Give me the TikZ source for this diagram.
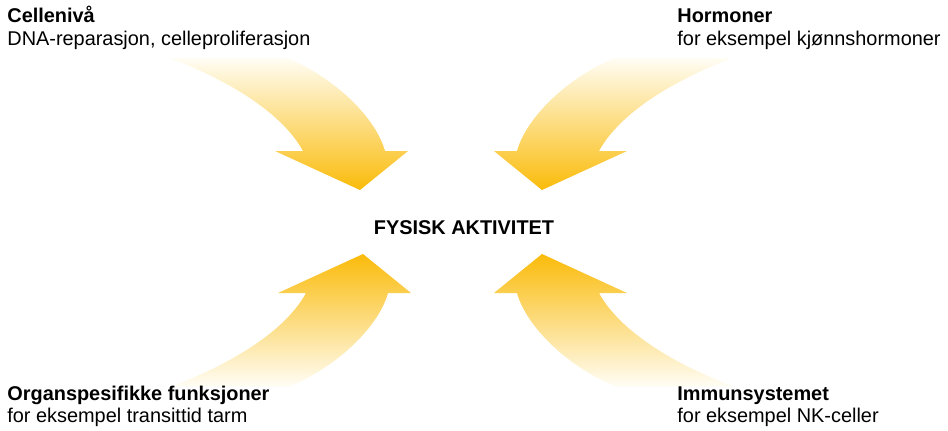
\documentclass[tikz,border=0pt]{standalone}
\usepackage{fontspec}
\setmainfont{Liberation Sans}
\definecolor{arrowtip}{RGB}{250,187,10}
\definecolor{arrowtail}{RGB}{255,253,244}
\newcommand{\curvedarrowpath}{%
  (-281,-164) -- (-164,-164)
  .. controls (-121,-147) and (-76,-107) .. (-66,-71)
  -- (-43,-71) -- (-91,-32) -- (-176,-71) -- (-148,-71)
  .. controls (-166,-104) and (-211,-137) .. (-281,-164) -- cycle}
\tikzset{
  lbltitle/.style={inner sep=0pt, anchor=base west, font=\fontsize{9.95}{12}\selectfont\bfseries},
  lblsub/.style={inner sep=0pt, anchor=base west, font=\fontsize{9.95}{12}\selectfont},
  downarrow/.style={top color=arrowtail, bottom color=arrowtip, draw=none},
  uparrow/.style={top color=arrowtip, bottom color=arrowtail, draw=none}
}
\begin{document}
\begin{tikzpicture}[x=0.5pt,y=-0.5pt]
\useasboundingbox[fill=white] (0,0) rectangle (948,430);
% arrows
\begin{scope}[shift={(451,222)}]
  \shade[downarrow] \curvedarrowpath;
\end{scope}
\begin{scope}[shift={(451,222)}, xscale=-1]
  \shade[downarrow] \curvedarrowpath;
\end{scope}
\begin{scope}[shift={(454,222)}, yscale=-1]
  \shade[uparrow] \curvedarrowpath;
\end{scope}
\begin{scope}[shift={(451,222)}, xscale=-1, yscale=-1]
  \shade[uparrow] \curvedarrowpath;
\end{scope}
% center text
\node[lbltitle, anchor=base] (center) at (464,234) {FYSISK AKTIVITET};
% labels
\node[lbltitle] (tlT) at (7,22.7) {Cellenivå};
\node[lblsub] (tlS) at (7,45.3) {DNA-reparasjon, celleproliferasjon};
\node[lbltitle] (trT) at (677,22.7) {Hormoner};
\node[lblsub] (trS) at (677,45.3) {for eksempel kjønnshormoner};
\node[lbltitle] (blT) at (7,400) {Organspesifikke funksjoner};
\node[lblsub] (blS) at (7,422.7) {for eksempel transittid tarm};
\node[lbltitle] (brT) at (677,400) {Immunsystemet};
\node[lblsub] (brS) at (677,422.7) {for eksempel NK-celler};
\end{tikzpicture}
\end{document}
